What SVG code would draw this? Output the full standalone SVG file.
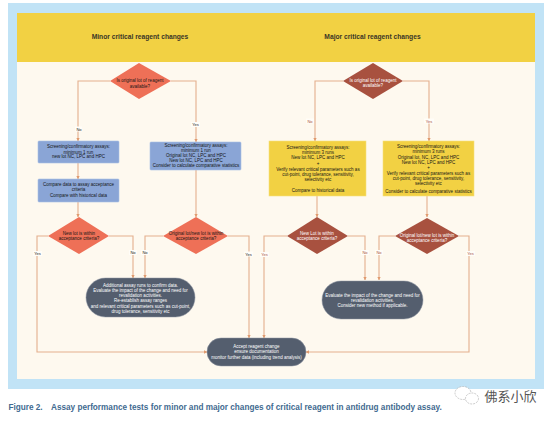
<svg xmlns="http://www.w3.org/2000/svg" width="554" height="421" viewBox="0 0 554 421">
<style>
text{font-family:"Liberation Sans",Arial,sans-serif;font-size:4.5px;text-anchor:middle;fill:#151515}
.w text,text.w{fill:#fff}
.h{font-size:6.7px;font-weight:bold;fill:#3a3526}
.c{font-size:8.2px;font-weight:bold;fill:#3f6a90;text-anchor:start}
.l{font-size:4px;fill:#222}
.r{font-size:4px;fill:#a8513f}
.bb{fill:#8aa5d6;stroke:#a9bfe4;stroke-width:.6}
.yb{fill:#f2d143;stroke:#f6e07e;stroke-width:.6}
.sa{fill:#ee7057}
.br{fill:#a8513f}
.pl{fill:#545e6e;stroke:#8d95a3;stroke-width:.5}
.cn{fill:none;stroke:#e3b08d;stroke-width:1.1}
.lb{fill:#fffdf8}
</style>
<defs>
<marker id="a" viewBox="0 0 6 6" refX="5.5" refY="3" markerWidth="3" markerHeight="3" orient="auto"><path d="M0 0L6 3L0 6Z" fill="#e09a6e"/></marker>
</defs>
<rect width="554" height="421" fill="#fff"/>
<rect x="8" y="3" width="536" height="386" fill="#c1e3f6"/>
<rect x="17" y="13" width="518" height="366" fill="#fef9ef"/>
<rect x="17" y="13" width="518" height="49" fill="#f2d143"/>
<text class="h" x="140" y="39.3">Minor critical reagent changes</text>
<text class="h" x="372.500" y="39.3">Major critical reagent changes</text>
<g id="connectors">
<g class="cn" marker-end="url(#a)">
<path d="M110 81H78V141"/>
<path d="M171 81H196V142"/>
<path d="M78 163V179"/>
<path d="M78 202V217"/>
<path d="M196 170V217"/>
<path d="M48 236H37V352H207"/>
<path d="M109 236H133V278"/>
<path d="M163 236H145V278"/>
<path d="M228 236H249V338"/>
<path d="M287 236H264V338"/>
<path d="M343 81H315V141"/>
<path d="M403 81H429V141"/>
<path d="M317 196V217"/>
<path d="M427 196V217"/>
<path d="M348 236H365V280"/>
<path d="M395 236H379V280"/>
<path d="M459 236H469V352H306"/>
</g>
<g>
<rect class="lb" x="75" y="126.500" width="7" height="5"/><text class="l" x="79" y="130.500">No</text>
<rect class="lb" x="191" y="122" width="9" height="5"/><text class="l" x="195.500" y="126">Yes</text>
<rect class="lb" x="306" y="118.500" width="8" height="5"/><text class="r" x="310" y="122.500">No</text>
<rect class="lb" x="424" y="118.500" width="10" height="5"/><text class="r" x="429" y="122.500">Yes</text>
<rect class="lb" x="33" y="251" width="9" height="5"/><text class="l" x="37.500" y="255">Yes</text>
<rect class="lb" x="129" y="250" width="8" height="5"/><text class="l" x="133" y="254">No</text>
<rect class="lb" x="141" y="250" width="8" height="5"/><text class="l" x="145" y="254">No</text>
<rect class="lb" x="244" y="251.500" width="9" height="5"/><text class="l" x="248.500" y="255.500">Yes</text>
<rect class="lb" x="260" y="252" width="9" height="5"/><text class="r" x="264.500" y="256">Yes</text>
<rect class="lb" x="361" y="250" width="8" height="5"/><text class="r" x="365" y="254">No</text>
<rect class="lb" x="375" y="250" width="8" height="5"/><text class="r" x="379" y="254">No</text>
<rect class="lb" x="466" y="251" width="9" height="5"/><text class="r" x="470.500" y="255">Yes</text>
</g>
</g>
<g id="d1"><path class="sa" d="M139 63L171 81L139 99L110 81Z"/><text x="140" y="82">Is original lot of reagent</text><text x="140" y="87.500">available?</text></g>
<g id="a1"><rect class="bb" x="38" y="141" width="81" height="22" rx="1"/><text x="78.500" y="148.300">Screening/confirmatory assays:</text><text x="78.500" y="153.500">minimum 1 run</text><text x="78.500" y="158.300">new lot NC, LPC and HPC</text></g>
<g id="a2"><rect class="bb" x="38" y="179" width="81" height="23" rx="1"/><text x="78.500" y="185.500">Compare data to assay acceptance</text><text x="78.500" y="191">criteria</text><text x="78.500" y="196.500">Compare with historical data</text></g>
<g id="b1"><rect class="bb" x="150" y="142" width="91" height="28" rx="1"/><text x="196" y="146.500">Screening/confirmatory assays:</text><text x="196" y="151.500">minimum 1 run</text><text x="196" y="156.500">Original lot NC, LPC and HPC</text><text x="196" y="161.500">New lot NC, LPC and HPC</text><text x="196" y="167.200">Consider to calculate comparative statistics</text></g>
<g id="d2"><path class="sa" d="M79 217L109 236L79 254L48 236Z"/><text x="79" y="234.500">New lot is within</text><text x="79" y="239.500">acceptance criteria?</text></g>
<g id="d3"><path class="sa" d="M196 217L228 236L196 254L163 236Z"/><text x="196" y="235">Original lot/new lot is within</text><text x="196" y="240">acceptance criteria?</text></g>
<g id="p1" class="w"><rect class="pl" x="86" y="278" width="109" height="39" rx="19.500"/><text x="140.500" y="286.500">Additional assay runs to confirm data.</text><text x="140.500" y="291.500">Evaluate the impact of the change and need for</text><text x="140.500" y="296.500">revalidation activities.</text><text x="140.500" y="301.500">Re-establish assay ranges</text><text x="140.500" y="307.500">and relevant critical parameters such as cut-point,</text><text x="140.500" y="312.500">drug tolerance, sensitivity etc</text></g>
<g id="p2" class="w"><rect class="pl" x="207" y="338" width="99" height="28" rx="14"/><text x="256.500" y="347.500">Accept reagent change</text><text x="256.500" y="353">ensure documentation</text><text x="256.500" y="358.500">monitor further data (including trend analysis)</text></g>
<g id="d4" class="w"><path class="br" d="M373 63L403 81L373 99L343 81Z"/><text x="373" y="82">Is original lot of reagent</text><text x="373" y="87">available?</text></g>
<g id="m1"><rect class="yb" x="269" y="141" width="97" height="55"/><text x="318" y="149.200">Screening/confirmatory assays:</text><text x="318" y="154.200">minimum 3 runs</text><text x="318" y="159.200">New lot NC, LPC and HPC</text><text x="318" y="164.500">+</text><text x="318" y="170.500">Verify relevant critical parameters such as</text><text x="318" y="175.500">cut-point, drug tolerance, sensitivity,</text><text x="318" y="180.500">selectivity etc</text><text x="318" y="191.800">Compare to historical data</text></g>
<g id="m2"><rect class="yb" x="383" y="141" width="91" height="55"/><text x="428.500" y="148.200">Screening/confirmatory assays:</text><text x="428.500" y="153.200">minimum 3 runs</text><text x="428.500" y="158.500">Original lot, NC, LPC and HPC</text><text x="428.500" y="163.500">New lot NC, LPC and HPC</text><text x="428.500" y="169.200">+</text><text x="428.500" y="174.500">Verify relevant critical parameters such as</text><text x="428.500" y="179.500">cut-point, drug tolerance, sensitivity,</text><text x="428.500" y="184.500">selectivity etc</text><text x="428.500" y="193">Consider to calculate comparative statistics</text></g>
<g id="d5" class="w"><path class="br" d="M317 217L348 236L317 254L287 236Z"/><text x="317" y="234.500">New Lot is within</text><text x="317" y="239.500">acceptance criteria?</text></g>
<g id="d6" class="w"><path class="br" d="M427 218L459 236L427 254L395 236Z"/><text x="427" y="236.500">Original lot/new lot is within</text><text x="427" y="241.500">acceptance criteria?</text></g>
<g id="p3" class="w"><rect class="pl" x="322" y="281" width="101" height="38" rx="19"/><text x="372.500" y="296.500">Evaluate the impact of the change and need for</text><text x="372.500" y="301.500">revalidation activities.</text><text x="372.500" y="307">Consider new method if applicable.</text></g>
<text class="c" x="8.500" y="410">Figure 2.</text>
<text class="c" x="51" y="410">Assay performance tests for minor and major changes of critical reagent in antidrug antibody assay.</text>
<g id="mark"><ellipse cx="463" cy="393" rx="8" ry="6.500" fill="#fff" stroke="#b5b5b5" stroke-width=".7" stroke-dasharray="2 1"/><ellipse cx="472" cy="398.500" rx="6.500" ry="5.500" fill="#fff" stroke="#b5b5b5" stroke-width=".7" stroke-dasharray="2 1"/><text x="510.500" y="401" style="font-family:'Noto Sans CJK SC',sans-serif;font-size:13px;fill:#555">佛系小欣</text></g>
</svg>
